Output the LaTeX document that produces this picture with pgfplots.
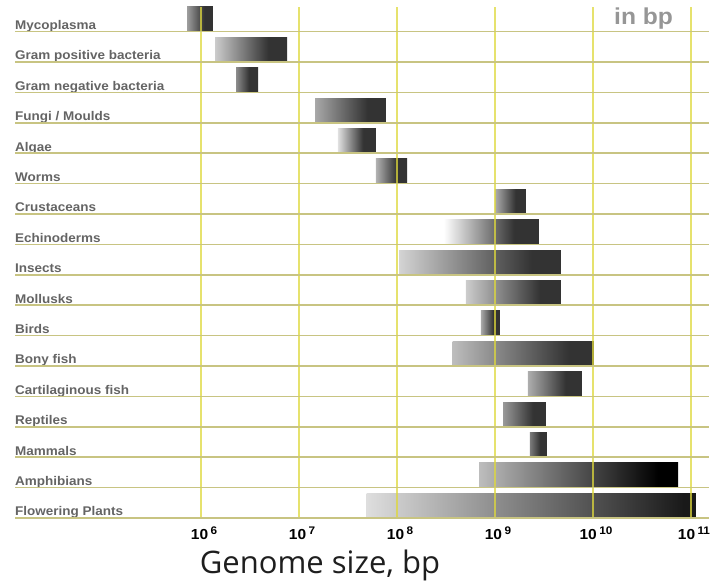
\documentclass[border=0pt]{standalone}
\usepackage{pgfplots}
\pgfplotsset{compat=1.18}
\usepackage{fontspec}
\setmainfont{Liberation Sans}
\newfontfamily\labfont[FakeStretch=1.07]{Liberation Sans}
\newfontfamily\xlabfont{Open Sans}
\definecolor{labgray}{RGB}{100,100,100}
\definecolor{vgrid}{RGB}{222,216,60}
\definecolor{hgrid}{RGB}{200,196,130}
\newcommand\ex[1]{10\,\raisebox{5bp}{\fontsize{11bp}{11bp}\selectfont #1}}
% horizontal shadings: name, start gray, end gray, plateau start (25..75 bp)
\newcommand\mkshade[4]{\pgfdeclarehorizontalshading{#1}{100bp}{rgb(0bp)=(#2,#2,#2); rgb(25bp)=(#2,#2,#2); rgb(#4bp)=(#3,#3,#3); rgb(100bp)=(#3,#3,#3)}}
\mkshade{sMyco}{0.62}{0.2}{58}
\mkshade{sGpos}{0.80}{0.2}{62}
\mkshade{sGneg}{0.55}{0.2}{55}
\mkshade{sFung}{0.66}{0.2}{62}
\mkshade{sAlga}{0.88}{0.2}{58}
\mkshade{sWorm}{0.70}{0.2}{58}
\mkshade{sCrus}{0.68}{0.2}{58}
\mkshade{sEchi}{1.00}{0.2}{62}
\mkshade{sInse}{0.83}{0.2}{66}
\mkshade{sMoll}{0.80}{0.2}{64}
\mkshade{sBird}{0.66}{0.2}{58}
\mkshade{sBony}{0.74}{0.2}{66}
\mkshade{sCart}{0.68}{0.2}{60}
\mkshade{sRept}{0.60}{0.2}{60}
\mkshade{sMamm}{0.48}{0.2}{55}
\mkshade{sAmph}{0.74}{0.0}{70}
\mkshade{sFlow}{0.87}{0.1}{73}
\begin{document}
\begin{tikzpicture}
\begin{axis}[
  scale only axis, width=694bp, height=511bp,
  xmode=log, xmin=12650, xmax=1.528e11,
  ymin=0, ymax=16.81,
  axis line style={draw=none},
  tick style={draw=none},
  xminorticks=false, yminorticks=false,
  xtick={1e6,1e7,1e8,1e9,1e10,1e11},
  xticklabels={{\ex{6}},{\ex{7}},{\ex{8}},{\ex{9}},{\ex{10}},{\ex{11}}},
  xticklabel style={font=\labfont\bfseries\fontsize{14.5bp}{14.5bp}\selectfont, anchor=base, yshift=-21bp, xshift=3bp, text=black},
  ytick={0,...,16}, yticklabels={},
  xmajorgrids, ymajorgrids,
  major x grid style={draw=vgrid, line width=1.4bp, opacity=0.75},
  major y grid style={draw=hgrid, line width=1.5bp},
  axis on top,
]
\addplot[draw=none, shade, shading=sMyco] coordinates {(7.2e5,16.03) (1.32e6,16.03) (1.32e6,16.81) (7.2e5,16.81)} -- cycle;
\addplot[draw=none, shade, shading=sGpos] coordinates {(1.39e6,15.03) (7.55e6,15.03) (7.55e6,15.81) (1.39e6,15.81)} -- cycle;
\addplot[draw=none, shade, shading=sGneg] coordinates {(2.28e6,14.03) (3.82e6,14.03) (3.82e6,14.81) (2.28e6,14.81)} -- cycle;
\addplot[draw=none, shade, shading=sFung] coordinates {(1.46e7,13.03) (7.7e7,13.03) (7.7e7,13.81) (1.46e7,13.81)} -- cycle;
\addplot[draw=none, shade, shading=sAlga] coordinates {(2.5e7,12.03) (6.1e7,12.03) (6.1e7,12.81) (2.5e7,12.81)} -- cycle;
\addplot[draw=none, shade, shading=sWorm] coordinates {(6.1e7,11.03) (1.27e8,11.03) (1.27e8,11.81) (6.1e7,11.81)} -- cycle;
\addplot[draw=none, shade, shading=sCrus] coordinates {(1.0e9,10.03) (2.07e9,10.03) (2.07e9,10.81) (1.0e9,10.81)} -- cycle;
\addplot[draw=none, shade, shading=sEchi] coordinates {(3.0e8,9.03) (2.8e9,9.03) (2.8e9,9.81) (3.0e8,9.81)} -- cycle;
\addplot[draw=none, shade, shading=sInse] coordinates {(1.05e8,8.03) (4.7e9,8.03) (4.7e9,8.81) (1.05e8,8.81)} -- cycle;
\addplot[draw=none, shade, shading=sMoll] coordinates {(5.06e8,7.03) (4.7e9,7.03) (4.7e9,7.81) (5.06e8,7.81)} -- cycle;
\addplot[draw=none, shade, shading=sBird] coordinates {(7.2e8,6.03) (1.12e9,6.03) (1.12e9,6.81) (7.2e8,6.81)} -- cycle;
\addplot[draw=none, shade, shading=sBony] coordinates {(3.7e8,5.03) (1.02e10,5.03) (1.02e10,5.81) (3.7e8,5.81)} -- cycle;
\addplot[draw=none, shade, shading=sCart] coordinates {(2.17e9,4.03) (7.7e9,4.03) (7.7e9,4.81) (2.17e9,4.81)} -- cycle;
\addplot[draw=none, shade, shading=sRept] coordinates {(1.21e9,3.03) (3.3e9,3.03) (3.3e9,3.81) (1.21e9,3.81)} -- cycle;
\addplot[draw=none, shade, shading=sMamm] coordinates {(2.27e9,2.03) (3.39e9,2.03) (3.39e9,2.81) (2.27e9,2.81)} -- cycle;
\addplot[draw=none, shade, shading=sAmph] coordinates {(6.9e8,1.03) (7.4e10,1.03) (7.4e10,1.81) (6.9e8,1.81)} -- cycle;
\addplot[draw=none, shade, shading=sFlow] coordinates {(4.9e7,0.03) (1.12e11,0.03) (1.12e11,0.81) (4.9e7,0.81)} -- cycle;
\begin{scope}[every node/.style={anchor=base west, inner sep=0pt, yshift=2.2bp, text=labgray, font=\labfont\bfseries\fontsize{12.6bp}{13bp}\selectfont}]
\node at (axis cs:12650,16) {Mycoplasma};
\node at (axis cs:12650,15) {Gram positive bacteria};
\node at (axis cs:12650,14) {Gram negative bacteria};
\node at (axis cs:12650,13) {Fungi / Moulds};
\node at (axis cs:12650,12) {Algae};
\node at (axis cs:12650,11) {Worms};
\node at (axis cs:12650,10) {Crustaceans};
\node at (axis cs:12650,9) {Echinoderms};
\node at (axis cs:12650,8) {Insects};
\node at (axis cs:12650,7) {Mollusks};
\node at (axis cs:12650,6) {Birds};
\node at (axis cs:12650,5) {Bony fish};
\node at (axis cs:12650,4) {Cartilaginous fish};
\node at (axis cs:12650,3) {Reptiles};
\node at (axis cs:12650,2) {Mammals};
\node at (axis cs:12650,1) {Amphibians};
\node at (axis cs:12650,0) {Flowering Plants};
\end{scope}
\end{axis}
\node[anchor=base west, inner sep=0pt, text={rgb,255:red,150;green,150;blue,150}, font=\labfont\bfseries\fontsize{23bp}{23bp}\selectfont] at ([shift={(599bp,493bp)}]current axis.south west) {in bp};
\node[anchor=base, inner sep=0pt, text={rgb,255:red,30;green,30;blue,30}, font=\xlabfont\fontsize{31bp}{31bp}\selectfont] at ([shift={(305bp,-55bp)}]current axis.south west) {Genome size, bp};
\path ([shift={(-15bp,-66bp)}]current axis.south west) rectangle ++(728bp,584bp);
\end{tikzpicture}
\end{document}
